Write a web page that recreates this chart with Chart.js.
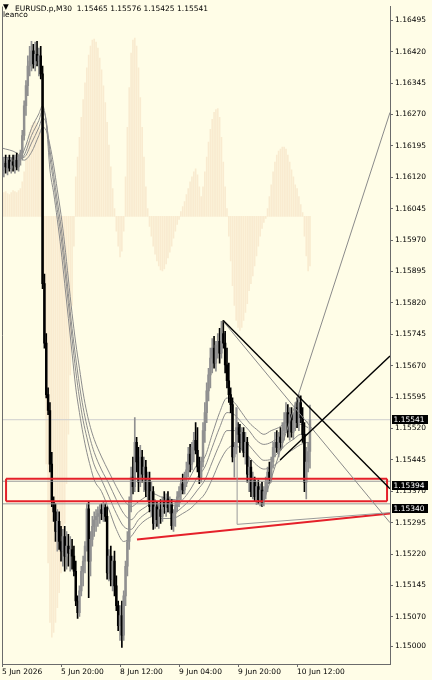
<!DOCTYPE html>
<html>
<head>
<meta charset="utf-8">
<script src="https://cdn.jsdelivr.net/npm/chart.js@4.4.1/dist/chart.umd.min.js"></script>
<style>
html, body { margin: 0; padding: 0; background: #fffde7; }
#wrap { width: 432px; height: 680px; }
</style>
</head>
<body>
<div id="wrap"><canvas id="c"></canvas></div>
<script>
// EURUSD.p M30, bar 0 = 5 Jun 04:00, one bar every 30 min
var opens = [1.16149,1.16138,1.16154,1.16145,1.16161,1.16142,1.16157,1.16149,1.16161,1.16145,
  1.16168,1.16178,1.16220,1.16291,1.16339,1.16386,1.16398,1.16422,1.16391,1.16414,
  1.16398,1.16410,1.16367,1.15866,1.15724,1.15601,1.15563,1.15435,1.15345,1.15321,
  1.15274,1.15298,1.15250,1.15227,1.15262,1.15215,1.15239,1.15222,1.15231,1.15215,
  1.15179,1.15108,1.15080,1.15132,1.15179,1.15203,1.15239,1.15328,1.15203,1.15255,
  1.15286,1.15302,1.15310,1.15317,1.15326,1.15317,1.15331,1.15310,1.15175,1.15215,
  1.15160,1.15203,1.15144,1.15097,1.15049,1.15073,1.15026,1.15120,1.15191,1.15250,
  1.15345,1.15404,1.15381,1.15487,1.15440,1.15392,1.15452,1.15411,1.15428,1.15373,
  1.15397,1.15333,1.15369,1.15293,1.15333,1.15302,1.15326,1.15310,1.15345,1.15333,
  1.15350,1.15331,1.15340,1.15288,1.15317,1.15333,1.15357,1.15369,1.15388,1.15373,
  1.15404,1.15421,1.15459,1.15435,1.15475,1.15492,1.15468,1.15428,1.15404,1.15440,
  1.15515,1.15558,1.15610,1.15648,1.15688,1.15712,1.15676,1.15719,1.15728,1.15700,
  1.15747,1.15724,1.15672,1.15634,1.15601,1.15577,1.15452,1.15475,1.15522,1.15506,
  1.15487,1.15511,1.15463,1.15487,1.15411,1.15428,1.15369,1.15397,1.15357,1.15381,
  1.15350,1.15373,1.15345,1.15369,1.15392,1.15416,1.15402,1.15440,1.15475,1.15487,
  1.15475,1.15499,1.15487,1.15515,1.15534,1.15558,1.15515,1.15553,1.15511,1.15539,
  1.15570,1.15534,1.15582,1.15546,1.15506,1.15392,1.15440,1.15465];
var highs = [1.16173,1.16168,1.16173,1.16168,1.16173,1.16166,1.16173,1.16173,1.16178,1.16173,
  1.16185,1.16232,1.16303,1.16351,1.16410,1.16433,1.16445,1.16438,1.16443,1.16445,
  1.16429,1.16433,1.16386,1.15889,1.15747,1.15617,1.15582,1.15463,1.15357,1.15340,
  1.15326,1.15321,1.15286,1.15279,1.15286,1.15274,1.15267,1.15262,1.15255,1.15239,
  1.15203,1.15120,1.15144,1.15191,1.15215,1.15250,1.15340,1.15345,1.15274,1.15310,
  1.15321,1.15326,1.15333,1.15338,1.15340,1.15345,1.15340,1.15333,1.15231,1.15239,
  1.15215,1.15227,1.15168,1.15108,1.15097,1.15108,1.15132,1.15203,1.15274,1.15357,
  1.15428,1.15452,1.15546,1.15499,1.15475,1.15480,1.15468,1.15452,1.15444,1.15416,
  1.15416,1.15392,1.15381,1.15350,1.15345,1.15340,1.15350,1.15357,1.15369,1.15364,
  1.15369,1.15357,1.15350,1.15326,1.15345,1.15369,1.15381,1.15397,1.15411,1.15416,
  1.15440,1.15475,1.15482,1.15487,1.15511,1.15534,1.15522,1.15452,1.15452,1.15534,
  1.15582,1.15629,1.15664,1.15712,1.15735,1.15740,1.15728,1.15747,1.15759,1.15776,
  1.15778,1.15752,1.15712,1.15676,1.15617,1.15593,1.15487,1.15570,1.15534,1.15530,
  1.15522,1.15522,1.15511,1.15499,1.15452,1.15444,1.15416,1.15404,1.15392,1.15397,
  1.15388,1.15392,1.15381,1.15404,1.15428,1.15440,1.15452,1.15487,1.15511,1.15515,
  1.15511,1.15522,1.15534,1.15558,1.15582,1.15577,1.15570,1.15570,1.15558,1.15582,
  1.15593,1.15601,1.15598,1.15570,1.15534,1.15475,1.15487,1.15576];
var lows = [1.16102,1.16121,1.16130,1.16126,1.16135,1.16130,1.16135,1.16130,1.16138,1.16135,
  1.16149,1.16161,1.16209,1.16268,1.16315,1.16362,1.16374,1.16381,1.16374,1.16386,
  1.16362,1.16355,1.15854,1.15712,1.15593,1.15553,1.15416,1.15333,1.15298,1.15250,
  1.15227,1.15231,1.15203,1.15191,1.15179,1.15184,1.15191,1.15179,1.15184,1.15168,
  1.15097,1.15066,1.15071,1.15120,1.15144,1.15175,1.15227,1.15116,1.15168,1.15239,
  1.15262,1.15274,1.15286,1.15293,1.15302,1.15298,1.15298,1.15160,1.15156,1.15144,
  1.15132,1.15120,1.15085,1.15037,1.15014,1.14997,1.15014,1.15097,1.15168,1.15231,
  1.15321,1.15364,1.15369,1.15416,1.15369,1.15381,1.15392,1.15369,1.15357,1.15345,
  1.15321,1.15310,1.15279,1.15281,1.15286,1.15281,1.15293,1.15298,1.15317,1.15310,
  1.15321,1.15317,1.15279,1.15274,1.15286,1.15321,1.15333,1.15350,1.15364,1.15364,
  1.15381,1.15404,1.15416,1.15421,1.15440,1.15459,1.15416,1.15388,1.15392,1.15428,
  1.15487,1.15534,1.15586,1.15617,1.15653,1.15664,1.15657,1.15688,1.15676,1.15688,
  1.15712,1.15653,1.15617,1.15582,1.15558,1.15440,1.15404,1.15459,1.15487,1.15463,
  1.15468,1.15452,1.15435,1.15392,1.15369,1.15357,1.15352,1.15345,1.15338,1.15340,
  1.15335,1.15333,1.15335,1.15352,1.15369,1.15388,1.15392,1.15425,1.15452,1.15463,
  1.15452,1.15468,1.15473,1.15492,1.15511,1.15499,1.15492,1.15499,1.15494,1.15515,
  1.15522,1.15515,1.15534,1.15487,1.15369,1.15352,1.15416,1.15425];
var closes = [1.16138,1.16154,1.16145,1.16161,1.16142,1.16157,1.16149,1.16161,1.16145,1.16168,
  1.16178,1.16220,1.16291,1.16339,1.16386,1.16398,1.16422,1.16391,1.16414,1.16398,
  1.16410,1.16367,1.15866,1.15724,1.15601,1.15563,1.15435,1.15345,1.15321,1.15274,
  1.15298,1.15250,1.15227,1.15262,1.15215,1.15239,1.15222,1.15231,1.15215,1.15179,
  1.15108,1.15080,1.15132,1.15179,1.15203,1.15239,1.15328,1.15203,1.15255,1.15286,
  1.15302,1.15310,1.15317,1.15326,1.15317,1.15331,1.15310,1.15175,1.15215,1.15160,
  1.15203,1.15144,1.15097,1.15049,1.15073,1.15026,1.15120,1.15191,1.15250,1.15345,
  1.15404,1.15381,1.15487,1.15440,1.15392,1.15452,1.15411,1.15428,1.15373,1.15397,
  1.15333,1.15369,1.15293,1.15333,1.15302,1.15326,1.15310,1.15345,1.15333,1.15350,
  1.15331,1.15340,1.15288,1.15317,1.15333,1.15357,1.15369,1.15388,1.15373,1.15404,
  1.15421,1.15459,1.15435,1.15475,1.15492,1.15468,1.15428,1.15404,1.15440,1.15515,
  1.15558,1.15610,1.15648,1.15688,1.15712,1.15676,1.15719,1.15728,1.15700,1.15747,
  1.15724,1.15672,1.15634,1.15601,1.15577,1.15452,1.15475,1.15522,1.15506,1.15487,
  1.15511,1.15463,1.15487,1.15411,1.15428,1.15369,1.15397,1.15357,1.15381,1.15350,
  1.15373,1.15345,1.15369,1.15392,1.15416,1.15402,1.15440,1.15475,1.15487,1.15475,
  1.15499,1.15487,1.15515,1.15534,1.15558,1.15515,1.15553,1.15511,1.15539,1.15570,
  1.15534,1.15582,1.15546,1.15506,1.15392,1.15440,1.15465,1.15541];

// background oscillator (leanco), own units, one value per bar
var osc = [22,24,25,23,22,24,26,25,24,26,28,
  35,45,60,75,85,92,95,96,94,90,85,
  40,
  -120,-250,-350,-410,-425,-420,-410,-395,-380,-360,-340,-310,-270,-220,-160,-90,-30,
  40,60,80,100,118,135,150,163,172,178,179,176,170,160,148,132,115,95,72,50,28,8,
  -15,-30,-41,-35,-15,
  40,90,130,165,178,180,172,150,120,90,60,30,8,
  -10,-20,-30,-38,-45,-50,-54,-55,-53,-48,-42,-36,-30,-22,-15,-8,-3,
  5,10,15,22,28,35,40,45,48,
  42,30,20,30,45,60,75,88,98,105,108,109,100,80,55,30,8,
  -20,-45,-70,-90,-105,-112,-115,-112,-105,-97,-88,-75,-68,-60,-50,-40,-30,-20,-12,-6,-2,
  8,20,32,45,55,62,66,68,70,70,68,62,55,47,40,32,28,20,12,4,
  -20,-40,-55,-50];

// moving averages, read at these bars
var maBars = [0,8,12,16,20,22,24,26,28,30,32,34,36,38,40,42,44,46,48,50,
  54,58,62,66,70,74,78,82,86,90,94,98,
  102,106,110,114,118,122,126,130,134,138,142,146,150,154,158,162,166];
var ma1 = [1.16190,1.16178,1.16161,1.16180,1.16220,1.16239,1.16232,1.16197,1.16149,1.16090,
  1.16031,1.15960,1.15877,1.15795,1.15724,1.15664,1.15605,1.15558,1.15522,1.15494,
  1.15452,1.15416,1.15381,1.15350,1.15333,1.15345,1.15357,1.15364,1.15357,1.15352,
  1.15350,1.15369,1.15404,1.15435,1.15452,1.15506,1.15558,1.15593,1.15582,1.15558,
  1.15534,1.15518,1.15506,1.15515,1.15522,1.15534,1.15539,1.15546,1.15534];
var ma2 = [1.16168,1.16166,1.16168,1.16202,1.16239,1.16261,1.16249,1.16185,1.16126,1.16064,
  1.16003,1.15925,1.15842,1.15759,1.15688,1.15624,1.15570,1.15527,1.15492,1.15463,
  1.15421,1.15388,1.15350,1.15317,1.15302,1.15321,1.15333,1.15345,1.15340,1.15338,
  1.15335,1.15350,1.15373,1.15404,1.15428,1.15475,1.15522,1.15558,1.15553,1.15534,
  1.15515,1.15492,1.15482,1.15487,1.15499,1.15511,1.15518,1.15530,1.15522];
var ma3 = [1.16157,1.16159,1.16173,1.16220,1.16256,1.16280,1.16256,1.16168,1.16107,1.16043,
  1.15979,1.15901,1.15818,1.15735,1.15657,1.15593,1.15539,1.15499,1.15463,1.15433,
  1.15397,1.15357,1.15317,1.15286,1.15279,1.15302,1.15317,1.15326,1.15321,1.15321,
  1.15321,1.15333,1.15350,1.15373,1.15397,1.15440,1.15482,1.15515,1.15515,1.15499,
  1.15480,1.15459,1.15444,1.15447,1.15463,1.15482,1.15494,1.15506,1.15506];
var ma4 = [1.16145,1.16154,1.16185,1.16237,1.16272,1.16291,1.16249,1.16138,1.16083,1.16019,
  1.15948,1.15866,1.15783,1.15700,1.15617,1.15558,1.15506,1.15463,1.15428,1.15397,
  1.15369,1.15326,1.15279,1.15250,1.15262,1.15286,1.15302,1.15310,1.15305,1.15305,
  1.15307,1.15317,1.15328,1.15345,1.15364,1.15399,1.15440,1.15470,1.15480,1.15470,
  1.15452,1.15433,1.15423,1.15428,1.15440,1.15459,1.15470,1.15482,1.15487];

// axis ticks
var priceTicks = [1.16495,1.16420,1.16345,1.16270,1.16195,1.16120,1.16045,1.15970,1.15895,
  1.15820,1.15745,1.15670,1.15595,1.15520,1.15445,1.15370,1.15295,1.15220,1.15145,1.15070,1.15000];
var timeTickBars = [0, 32, 64, 96, 128, 160];
var timeLabels = ['5 Jun 2026', '5 Jun 20:00', '8 Jun 12:00', '9 Jun 04:00', '9 Jun 20:00', '10 Jun 12:00'];

// drawn objects: [bar, price]
var lastPrice = 1.15541;
var levelPrices = [1.15394, 1.15340];
var boxBars = [2.2, 208.8];
var boxPrices = [1.15400, 1.15346];
var trendA = [[120, 1.15778], [210.4, 1.15376]];
var trendB = [[120, 1.15776], [210.4, 1.15295]];
var trendC = [[150.8, 1.15445], [210.4, 1.15693]];
var trendD = [[141, 1.15333], [210.4, 1.16275]];
var trendRed = [[73.2, 1.15255], [210.4, 1.15317]];
var trendLow = [[127.5, 1.15291], [210.4, 1.15319]];
var vMark = [[127.5, 1.15291], [127.5, 1.15570]];

var xMax = 210.4;
var bg = '#fffde7';
var frameColor = '#6b6b6b';

var bars = opens.map(function (v, i) { return i; });
var candleColor = bars.map(function (i) { return closes[i] >= opens[i] ? '#909090' : '#000000'; });

function seg(pts) {
  return pts.map(function (p) { return { x: p[0], y: p[1] }; });
}
function maSeries(vals) {
  return maBars.map(function (b, k) { return { x: b, y: vals[k] }; });
}
function lineSet(pts, color, width, order) {
  return { type: 'line', data: seg(pts), borderColor: color, borderWidth: width,
    pointRadius: 0, fill: false, order: order, yAxisID: 'y' };
}

var datasets = [];
datasets.push({
  type: 'bar', yAxisID: 'yOsc', order: 20,
  data: bars.map(function (i) { return { x: i, y: osc[i] }; }),
  backgroundColor: '#f9ebd0', grouped: false, maxBarThickness: 1,
  barPercentage: 1, categoryPercentage: 1, borderWidth: 0
});
datasets.push(lineSet([[0, lastPrice], [xMax, lastPrice]], '#cfcfcf', 1, 19));
[ma1, ma2, ma3, ma4].forEach(function (m) {
  datasets.push({ type: 'line', yAxisID: 'y', order: 18, data: maSeries(m),
    borderColor: '#8c8c8c', borderWidth: 1, pointRadius: 0, fill: false,
    cubicInterpolationMode: 'monotone' });
});
datasets.push({
  type: 'bar', yAxisID: 'y', order: 12,
  data: bars.map(function (i) { return { x: i, y: [lows[i], highs[i]] }; }),
  backgroundColor: candleColor, grouped: false, maxBarThickness: 1,
  barPercentage: 1, categoryPercentage: 1, borderWidth: 0
});
datasets.push({
  type: 'bar', yAxisID: 'y', order: 11,
  data: bars.map(function (i) { return { x: i, y: [opens[i], closes[i]] }; }),
  backgroundColor: candleColor, grouped: false, maxBarThickness: 1.8,
  barPercentage: 1, categoryPercentage: 1, borderWidth: 0
});
levelPrices.forEach(function (p) {
  datasets.push(lineSet([[0, p], [xMax, p]], '#9a9a9a', 1, 5));
});
datasets.push(lineSet([[boxBars[0], boxPrices[0]], [boxBars[1], boxPrices[0]]], '#e5202a', 2, 4));
datasets.push(lineSet([[boxBars[0], boxPrices[1]], [boxBars[1], boxPrices[1]]], '#e5202a', 2, 4));
datasets.push(lineSet([[boxBars[0], boxPrices[0]], [boxBars[0], boxPrices[1]]], '#e5202a', 2, 4));
datasets.push(lineSet([[boxBars[1], boxPrices[0]], [boxBars[1], boxPrices[1]]], '#e5202a', 2, 4));
datasets.push(lineSet(trendRed, '#e5202a', 2, 3));
datasets.push(lineSet(trendLow, '#9a9a9a', 1, 2));
datasets.push(lineSet(vMark, '#9a9a9a', 1, 2));
datasets.push(lineSet(trendB, '#8a8a8a', 1, 1));
datasets.push(lineSet(trendD, '#8a8a8a', 1, 1));
datasets.push(lineSet(trendA, '#000000', 1.4, 0));
datasets.push(lineSet(trendC, '#000000', 1.4, 0));

var mt4Frame = {
  id: 'mt4Frame',
  beforeDraw: function (chart) {
    var c = chart.ctx;
    c.save();
    c.fillStyle = bg;
    c.fillRect(0, 0, chart.width, chart.height);
    c.restore();
  },
  afterDraw: function (chart) {
    var c = chart.ctx, a = chart.chartArea, ys = chart.scales.y;
    c.save();
    c.strokeStyle = frameColor;
    c.lineWidth = 1;
    c.beginPath();
    c.moveTo(a.left + 0.5, a.top);
    c.lineTo(a.left + 0.5, a.bottom);
    c.stroke();

    c.font = '7.5px "DejaVu Sans"';
    c.fillStyle = '#000';
    c.textAlign = 'left';
    c.textBaseline = 'alphabetic';
    var n = closes.length - 1;
    c.fillText('\u25BC', 3, 9);
    c.fillText('EURUSD.p,M30  ' + [opens[n], highs[n], lows[n], closes[n]].map(function (v) {
      return v.toFixed(5); }).join(' '), 15, 11);
    c.fillText('leanco', 3, 17);

    // price tags on the axis
    [lastPrice].concat(levelPrices).forEach(function (p, k) {
      var py = ys.getPixelForValue(p);
      var top = k === 0 ? py - 4.5 : py;
      c.fillStyle = '#000';
      c.fillRect(392, Math.round(top), 36, 9);
      c.fillStyle = '#fff';
      c.textBaseline = 'middle';
      c.fillText(p.toFixed(5), 393.5, Math.round(top) + 4.8);
    });
    c.restore();
  }
};

Chart.defaults.font.family = '"DejaVu Sans"';
Chart.defaults.font.size = 7.5;
Chart.defaults.color = '#000';

new Chart(document.getElementById('c'), {
  type: 'bar',
  data: { datasets: datasets },
  options: {
    responsive: true,
    maintainAspectRatio: false,
    animation: false,
    events: [],
    layout: { padding: { left: 2, top: 0, right: 0, bottom: 0 } },
    plugins: { legend: { display: false }, tooltip: { enabled: false } },
    scales: {
      x: {
        type: 'linear', position: 'bottom', min: 0, max: xMax, offset: false,
        grid: { drawOnChartArea: false, drawTicks: true, tickLength: 3, color: frameColor, offset: false },
        border: { display: true, color: frameColor },
        afterBuildTicks: function (s) { s.ticks = timeTickBars.map(function (v) { return { value: v }; }); },
        afterFit: function (s) { s.height = 16; },
        ticks: {
          autoSkip: false, maxRotation: 0, align: 'start', padding: 1, color: '#000',
          callback: function (v) { var k = timeTickBars.indexOf(v); return k >= 0 ? timeLabels[k] : ''; }
        }
      },
      y: {
        type: 'linear', position: 'right', min: 1.149574, max: 1.165281,
        grid: { drawOnChartArea: false, drawTicks: true, tickLength: 3, color: frameColor },
        border: { display: true, color: frameColor },
        afterBuildTicks: function (s) { s.ticks = priceTicks.map(function (v) { return { value: v }; }); },
        afterFit: function (s) { s.width = 42; },
        ticks: {
          autoSkip: false, padding: 2, color: '#000',
          callback: function (v) { return v.toFixed(5); }
        }
      },
      yOsc: { type: 'linear', display: false, min: -452, max: 212 }
    }
  },
  plugins: [mt4Frame]
});
</script>
</body>
</html>
